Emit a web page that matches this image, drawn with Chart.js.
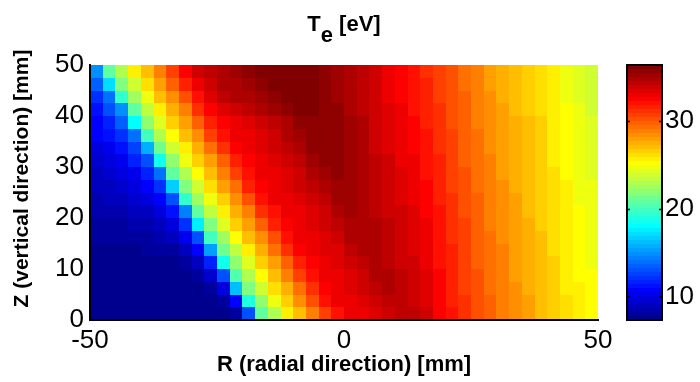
<!DOCTYPE html>
<html>
<head>
<meta charset="utf-8">
<title>Te map</title>
<script src="https://cdn.jsdelivr.net/npm/chart.js@4.4.1/dist/chart.umd.min.js"></script>
<style>
  html, body { margin: 0; padding: 0; background: #fff; }
</style>
</head>
<body>
<canvas id="teChart" width="700" height="382"></canvas>
<script>
// radial cell centres [mm]
const rCenters = [-48.75, -46.25, -43.75, -41.25, -38.75, -36.25, -33.75, -31.25, -28.75, -26.25,
                  -23.75, -21.25, -18.75, -16.25, -13.75, -11.25, -8.75, -6.25, -3.75, -1.25,
                  1.25, 3.75, 6.25, 8.75, 11.25, 13.75, 16.25, 18.75, 21.25, 23.75,
                  26.25, 28.75, 31.25, 33.75, 36.25, 38.75, 41.25, 43.75, 46.25, 48.75];
// vertical cell centres [mm], top row first
const zCenters = [48.75, 46.25, 43.75, 41.25, 38.75, 36.25, 33.75, 31.25, 28.75, 26.25,
                  23.75, 21.25, 18.75, 16.25, 13.75, 11.25, 8.75, 6.25, 3.75, 1.25];
// Te [eV], one row per zCenters entry, one column per rCenters entry
const teRows = [
  [14.8, 20.6, 23.2, 25.5, 27.3, 28.9, 30.8, 32.7, 33.8, 34.5, 34.8, 35.2, 35.6, 36.0, 36.3, 36.4, 36.3, 36.1, 35.8, 35.4, 34.9, 34.4, 33.7, 33.0, 32.5, 31.9, 31.3, 30.7, 30.1, 29.4, 28.7, 28.1, 27.6, 27.1, 26.7, 26.2, 25.5, 24.9, 24.4, 23.9],
  [13.5, 17.0, 21.7, 24.1, 26.2, 27.8, 29.6, 31.6, 33.2, 34.1, 34.6, 34.9, 35.3, 35.7, 36.0, 36.3, 36.2, 36.1, 35.8, 35.4, 35.0, 34.4, 33.8, 33.1, 32.6, 32.0, 31.4, 30.8, 30.2, 29.5, 28.8, 28.2, 27.6, 27.2, 26.7, 26.2, 25.6, 25.0, 24.4, 24.0],
  [12.3, 14.1, 19.4, 22.5, 25.0, 26.9, 28.4, 30.3, 32.3, 33.5, 34.3, 34.7, 35.0, 35.4, 35.8, 36.1, 36.1, 36.1, 35.8, 35.4, 35.0, 34.5, 33.8, 33.2, 32.7, 32.2, 31.5, 30.9, 30.3, 29.6, 28.9, 28.3, 27.7, 27.3, 26.8, 26.3, 25.6, 25.0, 24.5, 24.1],
  [11.3, 12.8, 14.9, 20.9, 23.4, 25.7, 27.4, 29.1, 31.0, 32.6, 33.4, 33.8, 34.2, 34.6, 35.1, 35.6, 36.0, 36.0, 35.8, 35.5, 35.0, 34.5, 33.9, 33.3, 32.8, 32.3, 31.7, 31.0, 30.3, 29.6, 29.0, 28.4, 27.8, 27.3, 26.8, 26.3, 25.7, 25.1, 24.6, 24.1],
  [10.8, 11.8, 13.3, 17.9, 21.9, 24.4, 26.4, 28.0, 29.8, 31.7, 32.6, 33.1, 33.4, 33.8, 34.4, 35.0, 35.6, 35.9, 35.9, 35.5, 35.1, 34.6, 34.0, 33.4, 32.9, 32.4, 31.8, 31.1, 30.4, 29.7, 29.1, 28.5, 27.9, 27.4, 26.9, 26.4, 25.7, 25.1, 24.6, 24.2],
  [10.6, 11.2, 12.2, 14.1, 20.0, 22.8, 25.2, 27.0, 28.6, 30.5, 32.2, 32.9, 33.2, 33.5, 34.0, 34.6, 35.2, 35.8, 35.8, 35.5, 35.1, 34.6, 34.1, 33.5, 33.0, 32.5, 31.9, 31.2, 30.5, 29.8, 29.2, 28.5, 28.0, 27.5, 27.0, 26.4, 25.8, 25.2, 24.7, 24.3],
  [9.6, 10.2, 11.0, 12.5, 15.7, 21.3, 23.7, 25.9, 27.6, 29.3, 31.2, 32.4, 33.0, 33.3, 33.7, 34.2, 34.8, 35.5, 35.7, 35.5, 35.1, 34.7, 34.1, 33.6, 33.1, 32.7, 32.1, 31.3, 30.6, 29.9, 29.3, 28.6, 28.0, 27.5, 27.0, 26.5, 25.8, 25.3, 24.8, 24.3],
  [9.2, 9.6, 10.2, 11.4, 13.2, 18.6, 22.2, 24.6, 26.6, 28.2, 30.0, 31.8, 32.7, 33.1, 33.4, 33.9, 34.4, 35.1, 35.6, 35.5, 35.2, 34.7, 34.2, 33.7, 33.2, 32.8, 32.2, 31.4, 30.7, 30.0, 29.3, 28.7, 28.1, 27.6, 27.1, 26.5, 25.9, 25.3, 24.8, 24.4],
  [9.0, 9.3, 9.7, 10.4, 11.8, 14.1, 20.5, 23.1, 25.4, 27.2, 28.8, 30.7, 32.3, 32.9, 33.2, 33.6, 34.0, 34.7, 35.3, 35.5, 35.2, 34.8, 34.3, 33.8, 33.4, 32.9, 32.3, 31.5, 30.8, 30.1, 29.4, 28.8, 28.2, 27.7, 27.1, 26.6, 26.0, 25.4, 24.9, 24.5],
  [8.8, 9.0, 9.3, 9.8, 10.6, 12.3, 16.6, 21.6, 24.0, 26.2, 27.8, 29.5, 31.4, 32.5, 33.0, 33.3, 33.7, 34.3, 34.9, 35.4, 35.2, 34.8, 34.4, 33.9, 33.5, 33.0, 32.4, 31.6, 30.9, 30.2, 29.5, 28.9, 28.3, 27.7, 27.2, 26.7, 26.0, 25.5, 25.0, 24.6],
  [8.5, 8.7, 8.9, 9.2, 9.8, 10.9, 13.1, 19.2, 22.4, 24.9, 26.8, 28.4, 30.2, 32.0, 32.8, 33.2, 33.5, 33.9, 34.5, 35.1, 35.3, 34.9, 34.4, 34.0, 33.6, 33.1, 32.6, 31.8, 31.0, 30.3, 29.6, 29.0, 28.3, 27.8, 27.3, 26.7, 26.1, 25.5, 25.0, 24.6],
  [8.3, 8.4, 8.5, 8.7, 9.0, 9.7, 11.2, 14.3, 20.8, 23.3, 25.7, 27.4, 29.0, 31.0, 32.3, 32.9, 33.2, 33.6, 34.1, 34.7, 35.2, 34.9, 34.5, 34.1, 33.7, 33.3, 32.7, 31.9, 31.1, 30.4, 29.7, 29.0, 28.4, 27.9, 27.3, 26.8, 26.1, 25.6, 25.1, 24.7],
  [8.1, 8.1, 8.2, 8.3, 8.5, 9.0, 9.9, 11.9, 17.5, 21.8, 24.3, 26.4, 27.9, 29.7, 31.6, 32.6, 33.1, 33.4, 33.8, 34.3, 35.0, 35.0, 34.6, 34.2, 33.8, 33.4, 32.8, 32.0, 31.2, 30.5, 29.8, 29.1, 28.5, 27.9, 27.4, 26.8, 26.2, 25.6, 25.2, 24.8],
  [7.9, 7.9, 8.0, 8.0, 8.1, 8.3, 8.9, 10.1, 13.0, 19.8, 22.7, 25.1, 27.0, 28.6, 30.4, 32.1, 32.9, 33.2, 33.5, 34.0, 34.6, 35.0, 34.6, 34.3, 33.9, 33.5, 32.9, 32.1, 31.3, 30.5, 29.9, 29.2, 28.6, 28.0, 27.4, 26.9, 26.3, 25.7, 25.2, 24.9],
  [7.7, 7.7, 7.7, 7.7, 7.8, 7.9, 8.1, 8.9, 10.6, 15.1, 21.2, 23.6, 25.9, 27.5, 29.2, 31.2, 32.4, 33.0, 33.3, 33.6, 34.2, 34.8, 34.7, 34.4, 34.0, 33.6, 33.1, 32.2, 31.4, 30.6, 29.9, 29.3, 28.7, 28.1, 27.5, 26.9, 26.3, 25.8, 25.3, 24.9],
  [7.5, 7.5, 7.5, 7.5, 7.5, 7.6, 7.7, 8.1, 9.0, 11.5, 18.3, 22.1, 24.5, 26.5, 28.1, 29.9, 31.8, 32.7, 33.1, 33.4, 33.8, 34.4, 34.8, 34.5, 34.1, 33.8, 33.2, 32.3, 31.5, 30.7, 30.0, 29.4, 28.7, 28.1, 27.6, 27.0, 26.4, 25.8, 25.4, 25.0],
  [7.5, 7.5, 7.5, 7.5, 7.5, 7.5, 7.5, 7.7, 8.1, 9.3, 13.0, 20.4, 23.0, 25.4, 27.1, 28.7, 30.6, 32.2, 32.9, 33.2, 33.5, 34.0, 34.6, 34.6, 34.2, 33.9, 33.3, 32.4, 31.6, 30.8, 30.1, 29.5, 28.8, 28.2, 27.6, 27.0, 26.4, 25.9, 25.4, 25.1],
  [7.4, 7.4, 7.4, 7.4, 7.4, 7.4, 7.4, 7.4, 7.6, 8.0, 9.7, 16.0, 21.5, 23.9, 26.1, 27.7, 29.4, 31.3, 32.5, 33.0, 33.3, 33.7, 34.3, 34.6, 34.4, 34.0, 33.5, 32.5, 31.7, 30.9, 30.2, 29.5, 28.9, 28.3, 27.7, 27.1, 26.5, 25.9, 25.5, 25.2],
  [7.4, 7.4, 7.4, 7.4, 7.4, 7.4, 7.4, 7.4, 7.4, 7.5, 8.0, 10.7, 18.9, 22.3, 24.8, 26.7, 28.3, 30.1, 31.9, 32.8, 33.1, 33.4, 33.9, 34.5, 34.5, 34.1, 33.6, 32.6, 31.8, 31.0, 30.3, 29.6, 29.0, 28.3, 27.8, 27.2, 26.5, 26.0, 25.6, 25.2],
  [7.3, 7.3, 7.3, 7.3, 7.3, 7.3, 7.3, 7.3, 7.3, 7.3, 7.4, 8.0, 13.2, 20.7, 23.2, 25.6, 27.3, 28.9, 30.9, 32.3, 32.9, 33.2, 33.6, 34.1, 34.4, 34.3, 33.7, 32.7, 31.9, 31.1, 30.4, 29.7, 29.0, 28.4, 27.8, 27.2, 26.6, 26.1, 25.6, 25.3]
];
const xTicks = [-50, 0, 50];
const yTicks = [0, 10, 20, 30, 40, 50];
const cbTicks = [10, 20, 30];

const cellSize = 2.5;
const nColors = 64;
const fontFamily = '"Liberation Sans", Arial, Helvetica, sans-serif';

// colour limits follow the data, as caxis auto does
const allTe = teRows.flat();
const teMin = Math.min(...allTe);
const teMax = Math.max(...allTe);

// MATLAB style jet colormap with m entries
function jet(m) {
    const n = Math.ceil(m / 4);
    const u = [];
    for (let i = 1; i <= n; i++) u.push(i / n);
    for (let i = 1; i < n; i++) u.push(1);
    for (let i = n; i >= 1; i--) u.push(i / n);
    const off = Math.ceil(n / 2) - (m % 4 === 1 ? 1 : 0);
    const at = (idx) => (idx >= 1 && idx <= u.length) ? u[idx - 1] : 0;
    const map = [];
    for (let k = 1; k <= m; k++) {
        const r = Math.round(255 * at(k - off - n));
        const g = Math.round(255 * at(k - off));
        const b = Math.round(255 * at(k - off + n));
        map.push('rgb(' + r + ',' + g + ',' + b + ')');
    }
    return map;
}
const cmap = jet(nColors);

function colorFor(v) {
    let idx = Math.floor((v - teMin) / (teMax - teMin) * nColors);
    if (idx < 0) idx = 0;
    if (idx > nColors - 1) idx = nColors - 1;
    return cmap[idx];
}

// no extra room for half labels at the axis ends
function noScalePadding(s) {
    s.paddingTop = 0;
    s.paddingBottom = 0;
    s.paddingLeft = 0;
    s.paddingRight = 0;
}

// pcolor-like cells, placed through the x / y scales
const heatmapPlugin = {
    id: 'heatmap',
    beforeDatasetsDraw(chart) {
        const { ctx, chartArea } = chart;
        const xs = chart.scales.x;
        const ys = chart.scales.y;
        ctx.save();
        ctx.beginPath();
        ctx.rect(chartArea.left, chartArea.top, chartArea.width, chartArea.height);
        ctx.clip();
        teRows.forEach((row, k) => {
            const zc = zCenters[k];
            const top = Math.round(ys.getPixelForValue(zc + cellSize / 2));
            const bottom = Math.round(ys.getPixelForValue(zc - cellSize / 2));
            row.forEach((v, j) => {
                const rc = rCenters[j];
                const left = Math.round(xs.getPixelForValue(rc - cellSize / 2));
                const right = Math.round(xs.getPixelForValue(rc + cellSize / 2));
                ctx.fillStyle = colorFor(v);
                ctx.fillRect(left, top, right - left, bottom - top);
            });
        });
        ctx.restore();
    }
};

// colour bar drawn inside the right hand 'cb' axis box
const colorbarPlugin = {
    id: 'colorbar',
    afterDraw(chart) {
        const { ctx } = chart;
        const cb = chart.scales.cb;
        const x0 = cb.left + 29;
        const w = 35;
        const span = teMax - teMin;
        ctx.save();
        for (let i = 0; i < nColors; i++) {
            const yLow = Math.round(cb.getPixelForValue(teMin + span * i / nColors));
            const yHigh = Math.round(cb.getPixelForValue(teMin + span * (i + 1) / nColors));
            ctx.fillStyle = cmap[i];
            ctx.fillRect(x0, yHigh, w, yLow - yHigh);
        }
        const yTop = cb.getPixelForValue(teMax);
        const yBot = cb.getPixelForValue(teMin);
        ctx.strokeStyle = '#000';
        ctx.lineWidth = 2;
        ctx.strokeRect(x0, yTop, w, yBot - yTop);
        ctx.lineWidth = 1.5;
        cbTicks.forEach(t => {
            const py = Math.round(cb.getPixelForValue(t)) + 0.5;
            ctx.beginPath();
            ctx.moveTo(x0, py); ctx.lineTo(x0 + 3, py);
            ctx.moveTo(x0 + w, py); ctx.lineTo(x0 + w - 3, py);
            ctx.stroke();
        });
        ctx.restore();
    }
};

// title with subscript e, and the rotated Z label
const titlePlugin = {
    id: 'teTitle',
    afterDraw(chart) {
        const { ctx, chartArea } = chart;
        ctx.save();
        ctx.fillStyle = '#000';
        ctx.font = 'bold 22px ' + fontFamily;
        ctx.textBaseline = 'alphabetic';
        ctx.textAlign = 'left';
        const wT = ctx.measureText('T').width;
        const wE = ctx.measureText('e').width;
        const rest = ' [eV]';
        const wRest = ctx.measureText(rest).width;
        const cx = (chartArea.left + chartArea.right) / 2;
        let x = cx - (wT + wE + wRest) / 2;
        const base = 31;
        ctx.fillText('T', x, base);
        x += wT;
        ctx.fillText('e', x, base + 11);
        x += wE;
        ctx.fillText(rest, x, base);

        ctx.translate(22, chartArea.top + chartArea.height / 2 - 14);
        ctx.rotate(-Math.PI / 2);
        ctx.font = 'bold 21px ' + fontFamily;
        ctx.textAlign = 'center';
        ctx.textBaseline = 'middle';
        ctx.fillText('Z (vertical direction) [mm]', 0, 0);
        ctx.restore();
    }
};

Chart.defaults.font.family = fontFamily;
Chart.defaults.color = '#000';

const ctx = document.getElementById('teChart').getContext('2d');
new Chart(ctx, {
    type: 'scatter',
    data: { datasets: [{ label: 'Te', data: [] }] },
    options: {
        responsive: false,
        animation: false,
        devicePixelRatio: 1,
        events: [],
        layout: { padding: { top: 65, left: 0, right: 0, bottom: 0 } },
        plugins: {
            legend: { display: false },
            tooltip: { enabled: false },
            title: { display: false }
        },
        scales: {
            x: {
                type: 'linear',
                min: -50,
                max: 50,
                afterBuildTicks: (s) => { s.ticks = xTicks.map(v => ({ value: v })); },
                afterFit: (s) => { s.height = 62; noScalePadding(s); },
                grid: { display: false, drawTicks: false },
                border: { display: true, color: '#000', width: 2, z: 1 },
                ticks: { font: { size: 26 }, padding: 5, maxRotation: 0, autoSkip: false, color: '#000' },
                title: {
                    display: true,
                    text: 'R (radial direction) [mm]',
                    font: { size: 22, weight: 'bold' },
                    padding: { top: 0, bottom: 4 },
                    color: '#000'
                }
            },
            y: {
                type: 'linear',
                min: 0,
                max: 50,
                afterBuildTicks: (s) => { s.ticks = yTicks.map(v => ({ value: v })); },
                afterFit: (s) => { s.width = 90; noScalePadding(s); },
                grid: { display: false, drawTicks: false },
                border: { display: true, color: '#000', width: 2, z: 1 },
                ticks: { font: { size: 26 }, padding: 6, autoSkip: false, color: '#000' },
                title: { display: false }
            },
            cb: {
                type: 'linear',
                position: 'right',
                min: teMin,
                max: teMax,
                afterBuildTicks: (s) => { s.ticks = cbTicks.map(v => ({ value: v })); },
                afterFit: (s) => { s.width = 102; noScalePadding(s); },
                grid: { display: false, drawTicks: false, drawOnChartArea: false },
                border: { display: false },
                ticks: { font: { size: 26 }, padding: 67, autoSkip: false, color: '#000' }
            }
        }
    },
    plugins: [heatmapPlugin, colorbarPlugin, titlePlugin]
});
</script>
</body>
</html>
